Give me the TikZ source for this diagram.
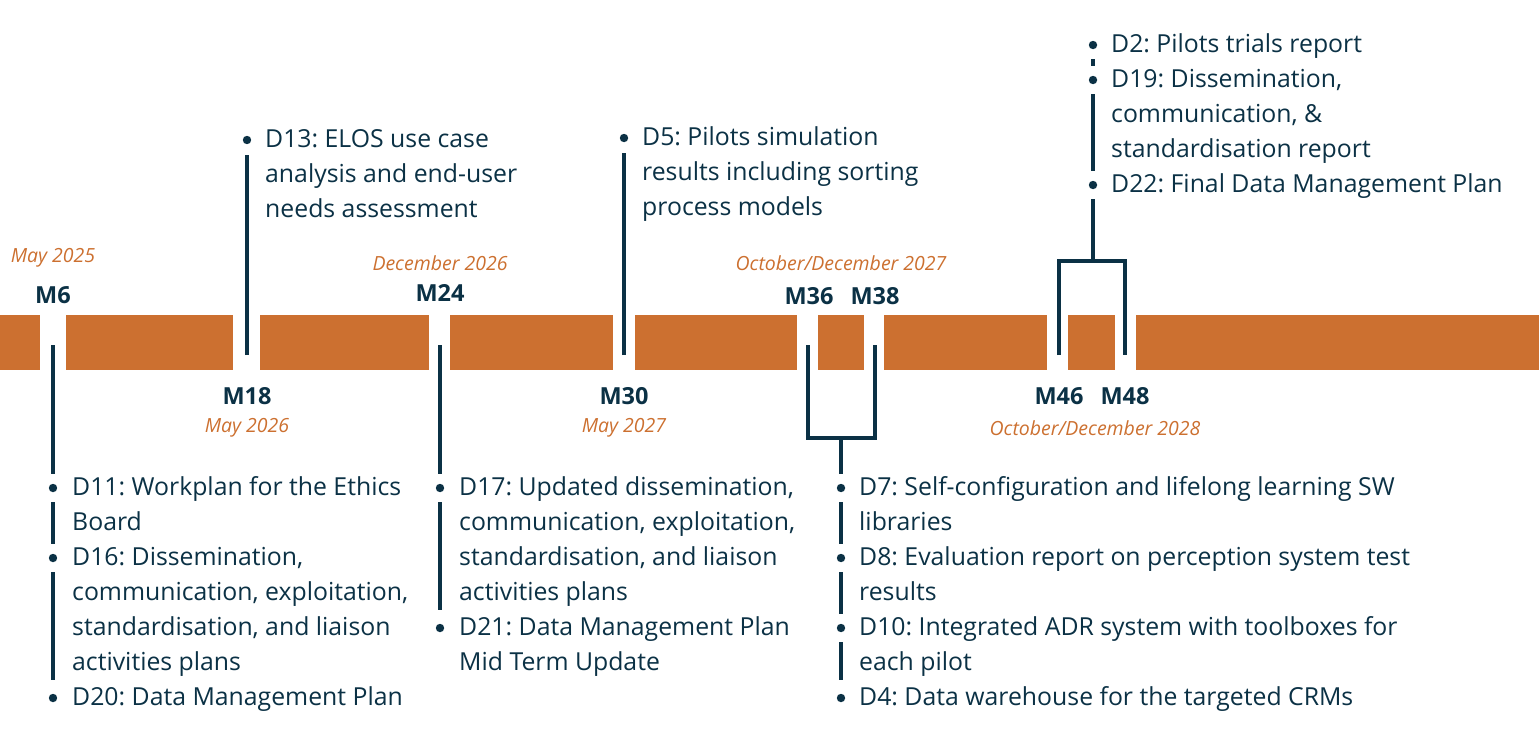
\documentclass[tikz,border=0pt]{standalone}
\usepackage{fontspec}
\setmainfont{Open Sans}
\frenchspacing
\definecolor{bar}{HTML}{CC7030}
\definecolor{ink}{HTML}{0B3145}
\tikzset{
  orangebar/.style={fill=bar,draw=none},
  stem/.style={draw=ink,line width=4pt},
  item/.style={anchor=north west,inner sep=0pt,align=left,text=ink,font=\fontsize{24.8}{35}\selectfont},
  mlabel/.style={text=ink,font=\bfseries\fontsize{23.5}{26}\selectfont,inner sep=0pt},
  dlabel/.style={text=bar,font=\itshape\fontsize{19.5}{22}\selectfont,inner sep=0pt},
}
\newcommand{\gapdot}[2]{\fill[white] (#1-6,#2-14) rectangle (#1+6,#2+14); \fill[ink] (#1,#2) circle (4.2);}
\begin{document}
\begin{tikzpicture}[x=1pt,y=-1pt]
\useasboundingbox (0,0) rectangle (1539,737);
\foreach \a/\b in {0/40,66/233,260/429,450/613,635/797,818/864,884/1047,1068/1115,1136/1539}
  \fill[orangebar] (\a,315) rectangle (\b,370);
% stems
\draw[stem] (53,345) coordinate (s6) -- (53,680) coordinate (e6);
\draw[stem] (247,355) coordinate (s18) -- (247,155) coordinate (e18);
\draw[stem] (440,345) coordinate (s24) -- (440,610) coordinate (e24);
\draw[stem] (624,355) coordinate (s30) -- (624,153) coordinate (e30);
\draw[stem] (808,345) coordinate (a36) |- (841,438) coordinate (b36) -| (875,345) coordinate (a38);
\draw[stem] (b36) -- (841,680) coordinate (e36);
\draw[stem] (1059,355) coordinate (a46) |- (1093,261) coordinate (b46) -| (1125,355) coordinate (a48);
\draw[stem] (b46) -- (1093,58) coordinate (e46);
% bullets
\gapdot{53}{488}\gapdot{53}{558}\gapdot{53}{698}
\gapdot{247}{140}
\gapdot{440}{488}\gapdot{440}{628}
\gapdot{624}{138}
\gapdot{841}{488}\gapdot{841}{558}\gapdot{841}{628}\gapdot{841}{698}
\gapdot{1093}{45}\gapdot{1093}{80}\gapdot{1093}{185}
% texts
\node[item] (t11) at (72,470.5) {\strut D11: Workplan for the Ethics\\Board};
\node[item] (t16) at (72,540.5) {\strut D16: Dissemination,\\communication, exploitation,\\standardisation, and liaison\\activities plans};
\node[item] (t20) at (72,680.5) {\strut D20: Data Management Plan};
\node[item] (t13) at (265,122.5) {\strut D13: ELOS use case\\analysis and end-user\\needs assessment};
\node[item] (t17) at (459,470.5) {\strut D17: Updated dissemination,\\communication, exploitation,\\standardisation, and liaison\\activities plans};
\node[item] (t21) at (459,610.5) {\strut D21: Data Management Plan\\Mid Term Update};
\node[item] (t5) at (642,120.5) {\strut D5: Pilots simulation\\results including sorting\\process models};
\node[item] (t7) at (859,470.5) {\strut D7: Self-configuration and lifelong learning SW\\libraries};
\node[item] (t8) at (859,540.5) {\strut D8: Evaluation report on perception system test\\results};
\node[item] (t10) at (859,610.5) {\strut D10: Integrated ADR system with toolboxes for\\each pilot};
\node[item] (t4) at (859,680.5) {\strut D4: Data warehouse for the targeted CRMs};
\node[item] (t2) at (1111,27.5) {\strut D2: Pilots trials report};
\node[item] (t19) at (1111,62.5) {\strut D19: Dissemination,\\communication, \&\\standardisation report};
\node[item] (t22) at (1111,167.5) {\strut D22: Final Data Management Plan};
% milestone labels
\node[mlabel] (m6) at (53,295) {M6};
\node[mlabel] (m18) at (247,396) {M18};
\node[mlabel] (m24) at (440,293) {M24};
\node[mlabel] (m30) at (624,396) {M30};
\node[mlabel] (m36) at (809,296) {M36};
\node[mlabel] (m38) at (875,296) {M38};
\node[mlabel] (m46) at (1059,396) {M46};
\node[mlabel] (m48) at (1125,396) {M48};
\node[dlabel] (d1) at (53,258) {May 2025};
\node[dlabel] (d2) at (247,428) {May 2026};
\node[dlabel] (d3) at (440,263) {December 2026};
\node[dlabel] (d4) at (624,428) {May 2027};
\node[dlabel] (d5) at (841,263) {October/December 2027};
\node[dlabel] (d6) at (1095,428) {October/December 2028};
\end{tikzpicture}
\end{document}
